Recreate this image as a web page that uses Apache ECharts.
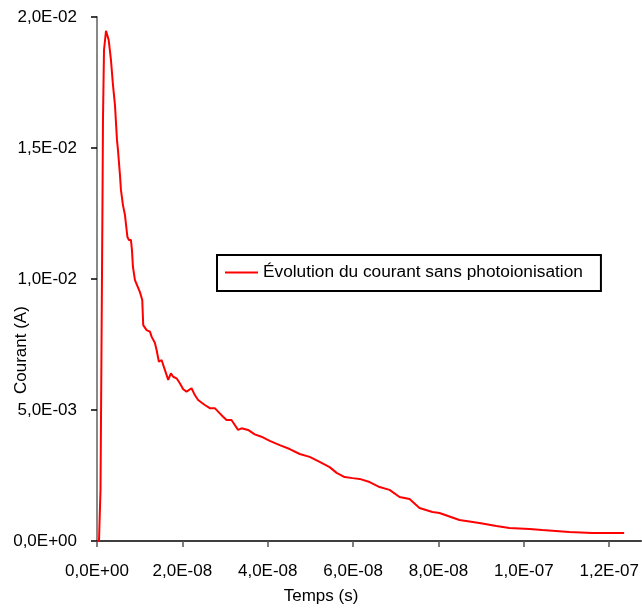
<!DOCTYPE html>
<html>
<head>
<meta charset="utf-8">
<script src="https://cdn.jsdelivr.net/npm/echarts@6/dist/echarts.min.js"></script>
<style>
html,body{margin:0;padding:0;background:#fff;}
#chart{width:642px;height:608px;}
</style>
</head>
<body>
<div id="chart"></div>
<script>
// Time in nanoseconds
var timeNs = [0, 0.47, 0.70, 0.82, 1.05, 1.29, 1.40, 1.64, 2.11, 2.74, 3.27, 3.74, 4.21, 4.68, 4.91, 5.38, 5.61, 6.08, 6.55, 7.13, 7.48, 7.95, 8.19, 8.42, 8.89, 10.06, 10.60, 10.83, 11.62, 12.40, 12.79, 13.57, 13.96, 14.50, 15.13, 15.90, 16.68, 17.31, 17.85, 18.64, 19.41, 20.19, 20.98, 21.35, 22.15, 22.92, 23.69, 25.26, 26.43, 27.60, 28.77, 29.54, 30.34, 31.51, 32.28, 33.05, 33.85, 35.39, 36.96, 38.52, 40.47, 42.81, 45.15, 47.49, 49.82, 52.16, 54.50, 56.14, 58.01, 59.88, 61.52, 63.86, 66.20, 68.54, 70.88, 73.22, 75.55, 78.59, 80.23, 84.91, 89.58, 93.56, 96.60, 101.3, 104.3, 110.6, 116.0, 123.5];
// Current in milliamperes
var currentMa = [0, 0, 0, 1.95, 7.29, 13.02, 16.07, 18.74, 19.47, 19.12, 18.36, 17.41, 16.64, 15.31, 14.93, 13.97, 13.40, 12.82, 12.44, 11.60, 11.49, 11.49, 11.10, 10.46, 9.96, 9.50, 9.20, 8.24, 8.05, 7.99, 7.80, 7.56, 7.29, 6.84, 6.91, 6.53, 6.15, 6.40, 6.27, 6.21, 6.02, 5.79, 5.70, 5.64, 5.83, 5.57, 5.38, 5.19, 5.07, 5.07, 4.87, 4.74, 4.62, 4.62, 4.43, 4.24, 4.30, 4.24, 4.07, 3.98, 3.82, 3.66, 3.51, 3.32, 3.21, 3.02, 2.82, 2.60, 2.44, 2.40, 2.37, 2.25, 2.06, 1.95, 1.68, 1.60, 1.26, 1.11, 1.07, 0.80, 0.69, 0.57, 0.50, 0.46, 0.42, 0.34, 0.31, 0.31];
var xTicks = [0, 2e-8, 4e-8, 6e-8, 8e-8, 1e-7, 1.2e-7];
var yTicks = [0, 0.005, 0.01, 0.015, 0.02];
var seriesName = 'Évolution du courant sans photoionisation';
var xTitle = 'Temps (s)';
var yTitle = 'Courant (A)';

function sci(v) {
  if (Math.abs(v) < 1e-20) return '0,0E+00';
  var s = v.toExponential(1);
  var parts = s.split('e');
  var m = parts[0].replace('.', ',');
  var e = parseInt(parts[1], 10);
  var sign = e < 0 ? '-' : '+';
  var ae = Math.abs(e);
  return m + 'E' + sign + (ae < 10 ? '0' + ae : '' + ae);
}

var data = timeNs.map(function (t, i) { return [t * 1e-9, currentMa[i] * 1e-3]; });
var FONT = '"Liberation Sans", Arial, Helvetica, sans-serif';

var chart = echarts.init(document.getElementById('chart'), null, {renderer: 'canvas'});
chart.setOption({
  animation: false,
  backgroundColor: '#fff',
  textStyle: {fontFamily: FONT, color: '#000'},
  grid: {left: 97, right: 0, top: 17, bottom: 67, containLabel: false},
  xAxis: {
    type: 'value',
    min: 0,
    max: 1.275e-7,
    interval: 2e-8,
    splitLine: {show: false},
    axisLine: {show: true, onZero: false, lineStyle: {color: '#000', width: 1.5}},
    axisTick: {show: true, length: 6, lineStyle: {color: '#555', width: 1.5}, customValues: xTicks},
    axisLabel: {fontSize: 17, color: '#000', margin: 22, fontFamily: FONT, customValues: xTicks,
      formatter: function (v) { return sci(v); }}
  },
  yAxis: {
    type: 'value',
    min: 0,
    max: 0.02,
    interval: 0.005,
    splitLine: {show: false},
    axisLine: {show: true, lineStyle: {color: '#888', width: 2}},
    axisTick: {show: true, length: 6, lineStyle: {color: '#000', width: 1.5}, customValues: yTicks},
    axisLabel: {fontSize: 17, color: '#000', margin: 20, fontFamily: FONT, customValues: yTicks,
      formatter: function (v) { return sci(v); }}
  },
  legend: {
    show: true,
    left: 217,
    top: 255,
    orient: 'horizontal',
    borderColor: '#000',
    borderWidth: 2,
    borderRadius: 0,
    padding: [9, 18, 10, 8],
    itemWidth: 33,
    itemHeight: 2,
    icon: 'rect',
    textStyle: {fontSize: 17.3, color: '#000', fontFamily: FONT},
    data: [seriesName]
  },
  graphic: [
    {type: 'text', left: 'center', top: 588, style: {text: xTitle, fill: '#000', font: '17px ' + FONT}},
    {type: 'text', x: 13, y: 394, rotation: Math.PI / 2, style: {text: yTitle, fill: '#000', font: '17px ' + FONT}}
  ],
  series: [{
    name: seriesName,
    type: 'line',
    data: data,
    showSymbol: false,
    symbol: 'none',
    lineStyle: {color: '#ff0000', width: 2},
    itemStyle: {color: '#ff0000'},
    clip: true
  }]
});
</script>
</body>
</html>
